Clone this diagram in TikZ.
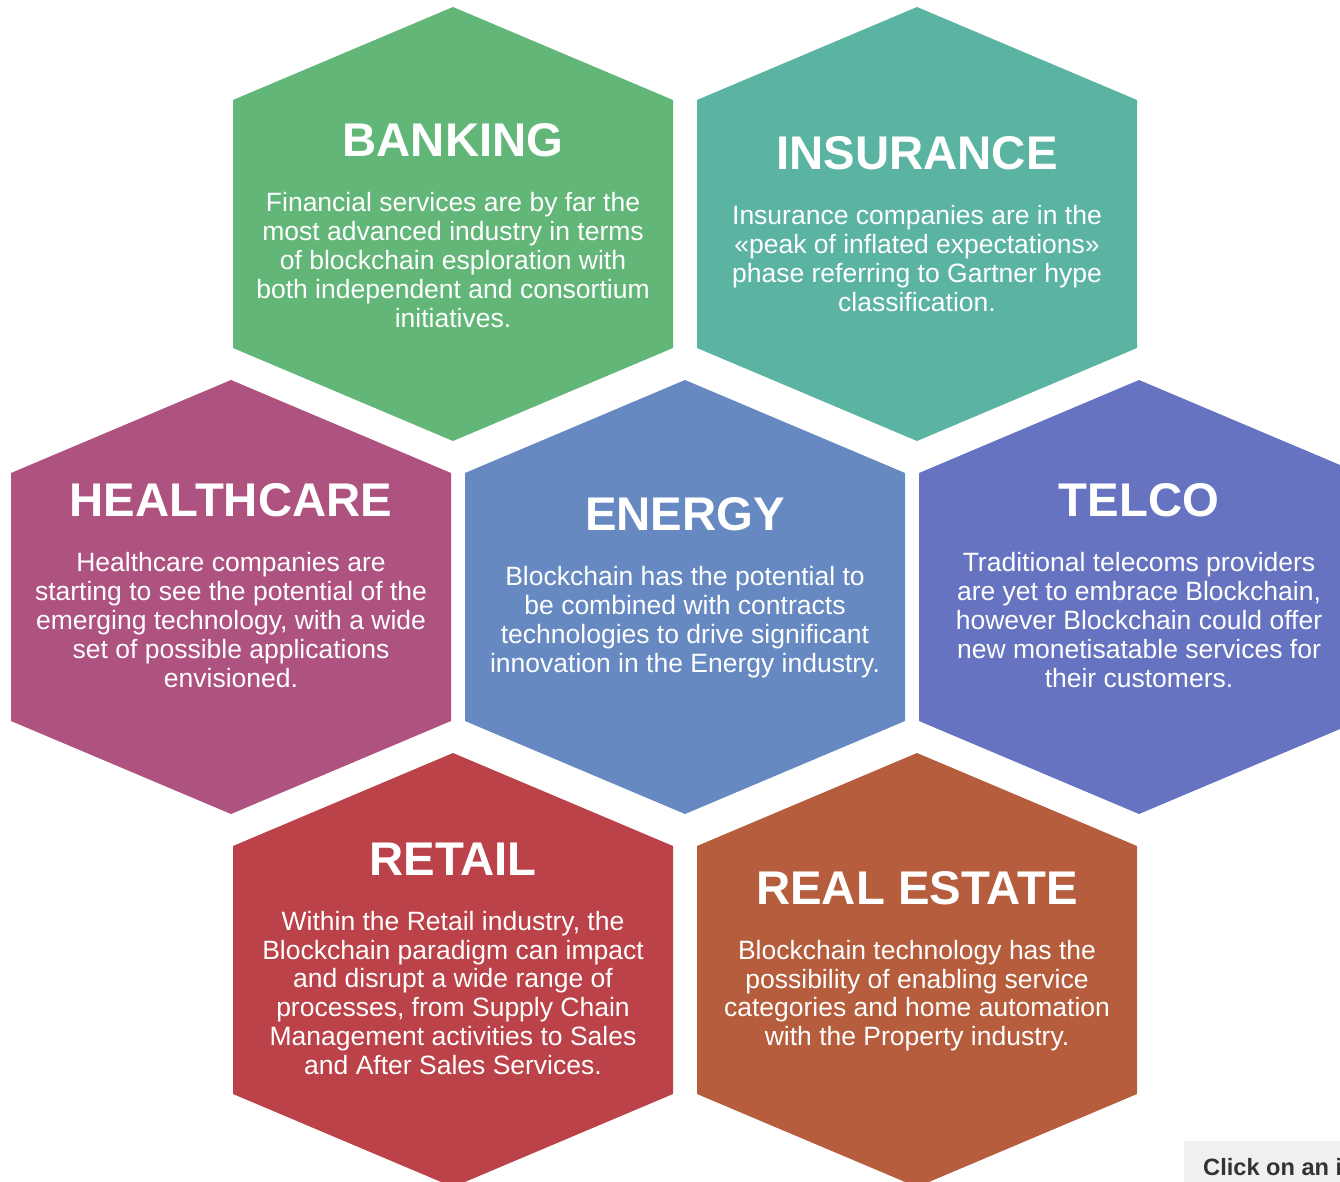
\documentclass[tikz,border=0pt]{standalone}
\usepackage{fontspec}
\setmainfont{Liberation Sans}
\usetikzlibrary{positioning, calc}
\definecolor{bankGreen}{HTML}{62B678}
\definecolor{insuranceTeal}{HTML}{5BB4A2}
\definecolor{healthPlum}{HTML}{AE527F}
\definecolor{energyBlue}{HTML}{6689C1}
\definecolor{telcoIndigo}{HTML}{6673C0}
\definecolor{retailRed}{HTML}{BA4248}
\definecolor{estateRust}{HTML}{B55D3C}
\definecolor{clickGray}{HTML}{F0F0F0}
\definecolor{clickText}{HTML}{333333}
\tikzstyle{hexTitle} =[text=white, font=\fontsize{47.3}{52}\selectfont\bfseries, inner sep=0pt]
\tikzstyle{hexBody} =[text=white, align=center, font=\fontsize{26.5}{28.8}\selectfont, inner sep=0pt]
\tikzset{hexcell/.style={insert path={++(0,-216.5) -- ++(220,93) -- ++(0,248) -- ++(-220,93) -- ++(-220,-93) -- ++(0,-248) -- cycle}}}

\begin{document}
\begin{tikzpicture}[x=1pt, y=-1pt]
\useasboundingbox (0,0) rectangle (1340,1182);
\clip (0,0) rectangle (1340,1182);

% centres of the cells
\coordinate (banking) at (453,223.5);
\coordinate (insurance) at (917,223.5);
\coordinate (healthcare) at (231,596.5);
\coordinate (energy) at (685,596.5);
\coordinate (telco) at (1139,596.5);
\coordinate (retail) at (453,969.5);
\coordinate (estate) at (917,969.5);

\fill[bankGreen] (banking) [hexcell];
\fill[insuranceTeal] (insurance) [hexcell];
\fill[healthPlum] (healthcare) [hexcell];
\fill[energyBlue] (energy) [hexcell];
\fill[telcoIndigo] (telco) [hexcell];
\fill[retailRed] (retail) [hexcell];
\fill[estateRust] (estate) [hexcell];

\node (bankingTitle) [hexTitle] at ($(banking)+(0,-83.5)$) {BANKING};
\node (bankingText) [hexBody, below=35.5pt of bankingTitle] {Financial services are by far the\\most advanced industry in terms\\of blockchain esploration with\\both independent and consortium\\initiatives.};

\node (insuranceTitle) [hexTitle] at ($(insurance)+(0,-70.5)$) {INSURANCE};
\node (insuranceText) [hexBody, below=35.5pt of insuranceTitle] {Insurance companies are in the\\«peak of inflated expectations»\\phase referring to Gartner hype\\classification.};

\node (healthcareTitle) [hexTitle] at ($(healthcare)+(0,-96.5)$) {HEALTHCARE};
\node (healthcareText) [hexBody, below=35.5pt of healthcareTitle] {Healthcare companies are\\starting to see the potential of the\\emerging technology, with a wide\\set of possible applications\\envisioned.};

\node (energyTitle) [hexTitle] at ($(energy)+(0,-82.5)$) {ENERGY};
\node (energyText) [hexBody, below=35.5pt of energyTitle] {Blockchain has the potential to\\be combined with contracts\\technologies to drive significant\\innovation in the Energy industry.};

\node (telcoTitle) [hexTitle] at ($(telco)+(0,-96.5)$) {TELCO};
\node (telcoText) [hexBody, below=35.5pt of telcoTitle] {Traditional telecoms providers\\are yet to embrace Blockchain,\\however Blockchain could offer\\new monetisatable services for\\their customers.};

\node (retailTitle) [hexTitle] at ($(retail)+(0,-110.5)$) {RETAIL};
\node (retailText) [hexBody, below=35.5pt of retailTitle] {Within the Retail industry, the\\Blockchain paradigm can impact\\and disrupt a wide range of\\processes, from Supply Chain\\Management activities to Sales\\and After Sales Services.};

\node (estateTitle) [hexTitle] at ($(estate)+(0,-81.5)$) {REAL ESTATE};
\node (estateText) [hexBody, below=35pt of estateTitle] {Blockchain technology has the\\possibility of enabling service\\categories and home automation\\with the Property industry.};

%hint box
\node (clickHint) [fill=clickGray, text=clickText, font=\fontsize{23.6}{26}\selectfont\bfseries, anchor=base west, inner xsep=19pt, inner ysep=17pt, text height=17pt, text depth=5pt] at (1184,1175) {Click on an i};

\end{tikzpicture}
\end{document}
